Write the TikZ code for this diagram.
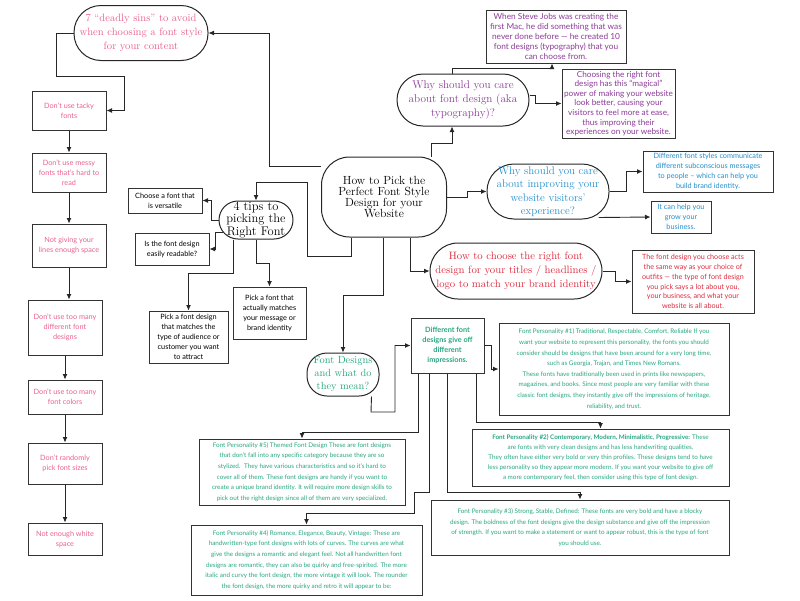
\documentclass[tikz,border=0pt]{standalone}
\usepackage{fontspec}
\newfontfamily\lato{Lato}
\usetikzlibrary{arrows.meta}
\definecolor{sinpink}{RGB}{233,98,141}
\definecolor{careviolet}{RGB}{140,58,152}
\definecolor{visitblue}{RGB}{34,142,204}
\definecolor{brandred}{RGB}{221,42,62}
\definecolor{persgreen}{RGB}{38,166,128}
\begin{document}
\begin{tikzpicture}[x=1pt, y=-1pt,
    pill/.style={draw=black!85, line width=1pt, align=center, inner sep=0pt},
    box/.style={draw=black!80, line width=1pt, align=center, inner sep=0pt, font=\lato\fontsize{7.3}{10}\selectfont},
    persbox/.style={box, text=persgreen, font=\lato\fontsize{6.3}{10.6}\selectfont},
    arrow/.style={-{Latex[length=5.5pt,width=5pt]}, line width=0.9pt, black!85}
  ]
    \useasboundingbox (0,0) rectangle (800,600);

    % centre
    \node[pill, rounded corners=28pt, minimum width=125pt, minimum height=80pt, font=\fontsize{11.8}{11}\selectfont] (main) at (384,197) {How to Pick the\\Perfect Font Style\\Design for your\\Website};

    % seven sins
    \node[pill, rounded corners=27pt, minimum width=134pt, minimum height=55pt, text=sinpink, font=\fontsize{10.6}{14}\selectfont] (sins) at (141,33) {7 “deadly sins” to avoid\\when choosing a font style\\for your content};
    \node[box, text=sinpink, minimum width=74pt, minimum height=39pt] (tacky) at (69,110.5) {Don’t use tacky\\fonts};
    \node[box, text=sinpink, minimum width=74pt, minimum height=39pt] (messy) at (69,172.5) {Don’t use messy\\fonts that’s hard to\\read};
    \node[box, text=sinpink, minimum width=74pt, minimum height=43pt] (linegap) at (69,245.5) {Not giving your\\lines enough space};
    \node[box, text=sinpink, minimum width=74pt, minimum height=55pt] (many) at (65,327.5) {Don’t use too many\\different font\\designs};
    \node[box, text=sinpink, minimum width=74pt, minimum height=34pt] (colors) at (65,397) {Don’t use too many\\font colors};
    \node[box, text=sinpink, minimum width=74pt, minimum height=41pt] (sizes) at (65,463.5) {Don’t randomly\\pick font sizes};
    \node[box, text=sinpink, minimum width=74pt, minimum height=32pt] (white) at (65,539) {Not enough white\\space};

    % four tips
    \node[pill, rounded corners=19pt, minimum width=74pt, minimum height=38pt, font=\fontsize{12.5}{11}\selectfont] (tips) at (256,220) {4 tips to\\picking the\\Right Font};
    \node[box, minimum width=74pt, minimum height=25pt] (versatile) at (165,200.5) {Choose a font that\\is versatile};
    \node[box, minimum width=74pt, minimum height=32pt] (readable) at (172,249) {Is the font design\\easily readable?};
    \node[box, minimum width=79pt, minimum height=52pt] (audience) at (188.5,337) {Pick a font design\\that matches the\\type of audience or\\customer you want\\to attract};
    \node[box, minimum width=73pt, minimum height=52pt] (message) at (269.5,313) {Pick a font that\\actually matches\\your message or\\brand identity};

    % why care
    \node[pill, rounded corners=26pt, minimum width=132pt, minimum height=52pt, text=careviolet, font=\fontsize{11.2}{14}\selectfont] (whyfont) at (463,100) {Why should you care\\about font design (aka\\typography)?};
    \node[box, text=careviolet, minimum width=140pt, minimum height=53pt, font=\lato\fontsize{8.3}{9.8}\selectfont] (steve) at (556,36.5) {When Steve Jobs was creating the\\first Mac, he did something that was\\never done before — he created 10\\font designs (typography) that you\\can choose from.};
    \node[box, text=careviolet, minimum width=113pt, minimum height=69pt, font=\lato\fontsize{8.2}{9.6}\selectfont] (choosing) at (618.5,103.5) {Choosing the right font\\design has this “magical”\\power of making your website\\look better, causing your\\visitors to feel more at ease,\\thus improving their\\experiences on your website.};

    % visitors
    \node[pill, rounded corners=27pt, minimum width=122pt, minimum height=55pt, text=visitblue, font=\fontsize{11}{13.5}\selectfont] (visit) at (548,191.5) {Why should you care\\about improving your\\website visitors’\\experience?};
    \node[box, text=visitblue, minimum width=130pt, minimum height=41pt] (subcon) at (708,171.5) {Different font styles communicate\\different subconscious messages\\to people – which can help you\\build brand identity.};
    \node[box, text=visitblue, minimum width=60pt, minimum height=32pt] (business) at (681,217) {It can help you\\grow your\\business.};

    % brand
    \node[pill, rounded corners=28pt, minimum width=172pt, minimum height=56pt, text=brandred, font=\fontsize{10.7}{14}\selectfont] (brand) at (516,271) {How to choose the right font\\design for your titles / headlines /\\logo to match your brand identity};
    \node[box, text=brandred, minimum width=122pt, minimum height=63pt, font=\lato\fontsize{7.2}{9.8}\selectfont] (outfits) at (693,281.5) {The font design you choose acts\\the same way as your choice of\\outfits — the type of font design\\you pick says a lot about you,\\your business, and what your\\website is all about.};

    % personalities
    \node[pill, rounded corners=20pt, minimum width=72pt, minimum height=43pt, text=persgreen, font=\fontsize{10.4}{13}\selectfont] (meaning) at (343,374.5) {Font Designs\\and what do\\they mean?};
    \node[box, text=persgreen, minimum width=73pt, minimum height=55pt, font=\lato\bfseries\fontsize{7.3}{10}\selectfont] (impress) at (447.5,345.5) {Different font\\designs give off\\different\\impressions.};
    \node[persbox, minimum width=230pt, minimum height=92pt] (pers1) at (614,369) {Font Personality \#1) Traditional, Respectable, Comfort, Reliable If you\\want your website to represent this personality, the fonts you should\\consider should be designs that have been around for a very long time,\\such as Georgia, Trajan, and Times New Romans.\\These fonts have traditionally been used in prints like newspapers,\\magazines, and books. Since most people are very familiar with these\\classic font designs, they instantly give off the impressions of heritage,\\reliability, and trust.};
    \node[persbox, minimum width=257pt, minimum height=57pt, font=\lato\fontsize{6.3}{10}\selectfont] (pers2) at (600.5,457.5) {{\bfseries Font Personality \#2) Contemporary, Modern, Minimalistic, Progressive:} These\\are fonts with very clean designs and has less handwriting qualities.\\They often have either very bold or very thin profiles. These designs tend to have\\less personality so they appear more modern. If you want your website to give off\\a more contemporary feel, then consider using this type of font design.};
    \node[persbox, minimum width=298pt, minimum height=55pt] (pers3) at (580,527.5) {Font Personality \#3) Strong, Stable, Defined: These fonts are very bold and have a blocky\\design. The boldness of the font designs give the design substance and give off the impression\\of strength. If you want to make a statement or want to appear robust, this is the type of font\\you should use.};
    \node[persbox, minimum width=206pt, minimum height=66pt] (pers5) at (302,472) {Font Personality \#5) Themed Font Design These are font designs\\that don’t fall into any specific category because they are so\\stylized.~ They have various characteristics and so it’s hard to\\cover all of them. These font designs are handy if you want to\\create a unique brand identity. It will require more design skills to\\pick out the right design since all of them are very specialized.};
    \node[persbox, minimum width=231pt, minimum height=70pt] (pers4) at (306.5,560) {Font Personality \#4) Romance, Elegance, Beauty, Vintage: These are\\handwritten-type font designs with lots of curves. The curves are what\\give the designs a romantic and elegant feel. Not all handwritten font\\designs are romantic, they can also be quirky and free-spirited. The more\\italic and curvy the font design, the more vintage it will look. The rounder\\the font design, the more quirky and retro it will appear to be:};

    % connectors
    \draw[arrow] (main.west |- 0,166) -- (269,166) |- (sins.east);
    \draw[arrow] (sins.west) -- (56,33) |- (124,76) |- (tacky.east);
    \draw[arrow] (tacky) -- (messy);
    \draw[arrow] (messy) -- (linegap);
    \draw[arrow] (linegap.south) -- (linegap.south |- many.north);
    \draw[arrow] (many) -- (colors);
    \draw[arrow] (colors) -- (sizes);
    \draw[arrow] (sizes) -- (white);

    \draw[arrow] ([xshift=-33pt]main.south) -- (351,256) -| (307,182) -| (tips.north);
    \draw[arrow] (tips.west) -- (211,220) |- (versatile.east);
    \draw[arrow] ([xshift=4pt,yshift=-12pt]tips.west) -- (215,232) |- (readable.east);
    \draw[arrow] ([xshift=-23pt]tips.south) -- (233,273) -| (audience.north);
    \draw[arrow] (tips.south) -- (256,263) -| (message.north);

    \draw[arrow] (main.north -| 431,0) -- (431,143) -| (whyfont.south -| 452,0);
    \draw[arrow] (whyfont.north -| 452,0) -- (452,68) -| (steve.south -| 552,0);
    \draw[arrow] (whyfont.east |- 0,95) -- (535,95) |- (choosing.west);

    \draw[arrow] (main.east) -- (467,197) |- (visit.west);
    \draw[arrow] (visit.east) -- (626,191.5) |- (subcon.west);
    \draw[arrow] ([xshift=-11pt,yshift=2pt]visit.south east) -- (business.west);

    \draw[arrow] ([xshift=26pt]main.south) -- (410,271) -- (brand.west);
    \draw[arrow] (brand.east) -- (615,271) |- (outfits.west);

    \draw[arrow] ([xshift=-1pt]main.south) -- (383,295) -| (meaning.north);
    \draw[arrow] ([xshift=-8pt]meaning.south east) -- (371,412) -- (395,412) |- (impress.west);
    \draw[arrow] (impress.east) -- (491,345.5) |- (pers1.west);
    \draw[arrow] ([xshift=28.5pt]impress.south) -- (476,422) -| (pers2.north);
    \draw[arrow] (impress.south) -- (447.5,492) -| (pers3.north);
    \draw[arrow] ([xshift=-29.5pt]impress.south) -- (418,432) -| (pers5.north);
    \draw[arrow] ([xshift=-18.5pt]impress.south) -- (429,492) -- (414,492) -- (414,513) -| (pers4.north);
\end{tikzpicture}
\end{document}
